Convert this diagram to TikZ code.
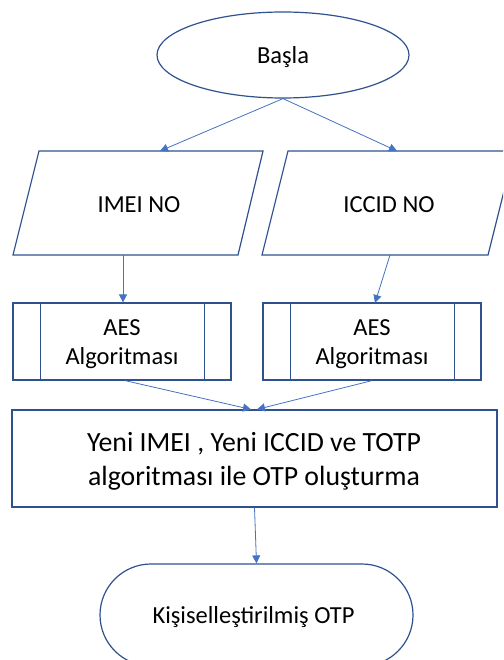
\documentclass[tikz,border=0pt]{standalone}
\usepackage{fontspec}
\setmainfont{Carlito}
\usetikzlibrary{shapes.geometric,shapes.misc,arrows.meta}
\definecolor{outl}{HTML}{2F528F}
\definecolor{arrc}{HTML}{4472C4}
\begin{document}
\begin{tikzpicture}[x=1pt,y=-1pt,
  shapeline/.style={draw=outl,line width=1.2pt,inner sep=0pt},
  arr/.style={draw=arrc,line width=0.8pt,-{Triangle[length=8pt,width=8pt]}},
  txt/.style={font=\fontsize{24.5}{29}\selectfont,align=center,text=black,inner sep=0pt},
  bigtxt/.style={font=\fontsize{27.8}{34}\selectfont,align=center,text=black,inner sep=0pt}]
\useasboundingbox (0,0) rectangle (503,660);
\fill[white] (0,0) rectangle (503,660);
\clip (0,0) rectangle (503,660);
% start
\node[ellipse,shapeline,minimum width=252pt,minimum height=86pt] (basla) at (283,55) {};
\node[txt] (baslaT) at ([yshift=-2pt]basla.center) {Başla};
% inputs
\draw[shapeline] (39,151) -- (263,151) -- (238,255) -- (13,255) -- cycle;
\node[txt] (imei) at (139,205) {IMEI NO};
\draw[shapeline] (288,151) -- (514,151) -- (488,255) -- (262,255) -- cycle;
\node[txt] (iccid) at (389,205) {ICCID NO};
\coordinate (imeiTop) at (160,151);
\coordinate (imeiBot) at (123,255);
\coordinate (iccidTop) at (397,151);
\coordinate (iccidBot) at (390,255);
% AES boxes
\node[rectangle,shapeline,minimum width=218pt,minimum height=77pt] (aes1) at (122,341.5) {};
\node[txt] (aes1T) at ([yshift=-2.5pt]aes1.center) {AES\\Algoritması};
\draw[shapeline] ([xshift=28pt]aes1.north west) -- ([xshift=28pt]aes1.south west);
\draw[shapeline] ([xshift=-27pt]aes1.north east) -- ([xshift=-27pt]aes1.south east);
\node[rectangle,shapeline,minimum width=218pt,minimum height=77pt] (aes2) at (372,341.5) {};
\node[txt] (aes2T) at ([yshift=-2.5pt]aes2.center) {AES\\Algoritması};
\draw[shapeline] ([xshift=28pt]aes2.north west) -- ([xshift=28pt]aes2.south west);
\draw[shapeline] ([xshift=-27pt]aes2.north east) -- ([xshift=-27pt]aes2.south east);
\coordinate (aes2in) at (375,303);
% OTP generation
\node[rectangle,shapeline,minimum width=485pt,minimum height=97pt] (otp) at (254.5,458.5) {};
\node[bigtxt] (otpT) at ([xshift=-0.5pt,yshift=-2.5pt]otp.center) {Yeni IMEI , Yeni ICCID ve TOTP\\algoritması ile OTP oluşturma};
% end
\node[rounded rectangle,shapeline,minimum width=313pt,minimum height=102pt] (kisi) at (256.5,615) {};
\node[txt] (kisiT) at ([xshift=-3pt,yshift=-2pt]kisi.center) {Kişiselleştirilmiş OTP};
% connectors
\draw[arr] (basla.south) -- (imeiTop);
\draw[arr] (basla.south) -- (iccidTop);
\draw[arr] (imeiBot) -- (imeiBot|-aes1.north);
\draw[arr] (iccidBot) -- (aes2in);
\draw[arr] ([xshift=3pt]aes1.south) -- ([xshift=-3.5pt]otp.north);
\draw[arr] (aes2.south) -- ([xshift=2.5pt]otp.north);
\draw[arr] (otp.south) -- (kisi.north);
\end{tikzpicture}
\end{document}
